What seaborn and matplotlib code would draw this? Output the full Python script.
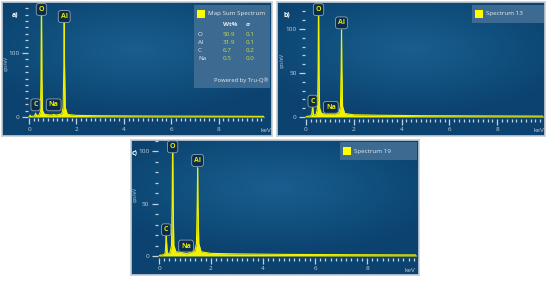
import numpy as np
import pandas as pd
import matplotlib
matplotlib.use('Agg')
import matplotlib.pyplot as plt
import seaborn as sns
from matplotlib.colors import LinearSegmentedColormap
from matplotlib.patches import Rectangle
from matplotlib.ticker import MultipleLocator

sns.set_theme(style="white")
plt.rcParams['font.family'] = ['Open Sans', 'DejaVu Sans']

# --- spectrum data (energy grid shared by the three spectra) ---
ENERGY = [0.00, 0.05, 0.08, 0.12, 0.20, 0.24, 0.26, 0.277, 0.295, 0.32,
          0.42, 0.48, 0.505, 0.525, 0.545, 0.57, 0.65, 0.95, 1.00, 1.04,
          1.08, 1.15, 1.38, 1.44, 1.47, 1.486, 1.50, 1.53, 1.62, 2.0,
          3.0, 5.0, 10.0]
COUNTS_A = [0, 3, 0.5, 1, 1.5, 2, 4, 6, 4, 2,
            3, 8, 60, 195, 60, 10, 4, 3, 3.5, 4,
            3.5, 3, 5, 15, 80, 150, 80, 15, 4, 2.5,
            2, 1.5, 1]
COUNTS_B = [0, 1, 0.5, 1, 1.5, 3, 8, 12, 8, 2,
            3, 10, 50, 140, 50, 10, 4, 3, 3.5, 3,
            3.5, 3, 5, 12, 55, 99, 55, 12, 4, 2.5,
            2, 1.5, 1]
COUNTS_C = [0, 1, 0.5, 1, 1.5, 3, 12, 19, 12, 2,
            3, 10, 50, 115, 50, 10, 4, 3, 2.5, 2,
            2.5, 3, 5, 12, 50, 84, 50, 12, 4, 2.5,
            2, 1.5, 1]

PEAK_ELEMENTS = ['C', 'O', 'Na', 'Al']
PEAK_KEV = [0.277, 0.525, 1.041, 1.486]

# quantification table of panel a)
WT_ELEMENTS = ['O', 'Al', 'C', 'Na']
WT_PCT = [50.9, 31.9, 6.7, 0.5]
WT_SIGMA = [0.1, 0.1, 0.2, 0.0]

W, H = 550, 281
YELLOW = '#f0f000'
TICK_COLOR = '#c4d2e0'
bg_cmap = LinearSegmentedColormap.from_list('eds', ['#0c426f', '#11517f', '#1a5e8f'])

PANELS = [
    dict(tag='a)', counts=COUNTS_A, rect=(2, 2, 270, 134), x0=29, ppk=23.7, y0=117, ppc=0.64,
         ytop=175, ymajor=100, kev_px=(266, 130), ylab_px=(6, 64), tag_px=(12, 16),
         label_y=[19, 168, 19, 157],
         legend='Map Sum Spectrum', leg_rect=(194, 5, 76, 83)),
    dict(tag='b)', counts=COUNTS_B, rect=(277, 2, 268, 134), x0=306, ppk=23.9, y0=117, ppc=0.88,
         ytop=127, ymajor=50, kev_px=(539, 130), ylab_px=(282, 61), tag_px=(284, 15),
         label_y=[18, 122, 11, 107],
         legend='Spectrum 13', leg_rect=(472, 5, 72, 18)),
    dict(tag='c)', counts=COUNTS_C, rect=(131, 140, 288, 135), x0=159, ppk=26.0, y0=256, ppc=1.05,
         ytop=110, ymajor=50, kev_px=(410, 270), ylab_px=(135, 195), tag_px=(132, 153),
         label_y=[25, 104, 9.5, 91],
         legend='Spectrum 19', leg_rect=(340, 142, 77, 18)),
]


def px_axes(fig, x, y, w, h, **kw):
    return fig.add_axes([x / W, 1 - (y + h) / H, w / W, h / H], **kw)


def fig_text(fig, x, y, s, **kw):
    return fig.text(x / W, 1 - y / H, s, **kw)


def draw_panel(fig, p):
    bx, by, bw, bh = p['rect']
    bg = px_axes(fig, bx, by, bw, bh)
    gx, gy = np.meshgrid(np.linspace(-1, 1, 200), np.linspace(-1, 1, 100))
    bg.imshow(1 - np.clip(np.sqrt((gx * 0.8) ** 2 + (gy + 0.3) ** 2), 0, 1),
              cmap=bg_cmap, aspect='auto', extent=[0, 1, 0, 1])
    bg.set_xticks([])
    bg.set_yticks([])
    for s in bg.spines.values():
        s.set_color('#c9cfd6')
        s.set_linewidth(1.2)

    xlim = (-0.05, 9.9)
    ylim = (-2, p['ytop'])
    left = p['x0'] + xlim[0] * p['ppk']
    right = p['x0'] + xlim[1] * p['ppk']
    bottom = p['y0'] - ylim[0] * p['ppc']
    top = p['y0'] - ylim[1] * p['ppc']
    ax = px_axes(fig, left, top, right - left, bottom - top)
    ax.patch.set_alpha(0)

    df = pd.DataFrame({'keV': ENERGY, 'cps': p['counts']})
    ax.fill_between(df['keV'], df['cps'], 0, color=YELLOW, lw=0)
    sns.lineplot(data=df, x='keV', y='cps', color=YELLOW, lw=0.8, ax=ax)
    ax.set_xlim(*xlim)
    ax.set_ylim(*ylim)
    ax.set_xlabel('')
    ax.set_ylabel('')
    for s in ax.spines.values():
        s.set_visible(False)

    ax.set_xticks([0, 2, 4, 6, 8])
    ax.xaxis.set_minor_locator(MultipleLocator(0.2))
    ax.yaxis.set_major_locator(MultipleLocator(p['ymajor']))
    ax.yaxis.set_minor_locator(MultipleLocator(10))
    if p['ymajor'] == 100:
        ax.set_yticks([0, 100])
    ax.tick_params(which='major', direction='out', length=4, width=0.9,
                   color=TICK_COLOR, labelcolor=TICK_COLOR, labelsize=4.6, pad=2,
                   left=True, bottom=True)
    ax.tick_params(which='minor', direction='out', length=2, width=0.9,
                   color=TICK_COLOR, left=True, bottom=True)

    for el, kev, ly in zip(PEAK_ELEMENTS, PEAK_KEV, p['label_y']):
        ax.text(kev, ly, el, ha='center', va='center', color='#e6e600', fontsize=5,
                fontweight='bold', clip_on=False, zorder=5,
                bbox=dict(boxstyle='round,pad=0.35', facecolor='#0b2d4d',
                          edgecolor='#8ea2b4', lw=0.6))

    fig_text(fig, *p['kev_px'], 'keV', color=TICK_COLOR, fontsize=4.6, ha='center', va='center')
    fig_text(fig, *p['ylab_px'], 'cps/eV', color=TICK_COLOR, fontsize=3.5, rotation=90,
             ha='center', va='center')
    fig_text(fig, *p['tag_px'], p['tag'], color='white', fontsize=5,
             fontweight='bold', ha='left', va='center')

    lx, ly, lw_, lh = p['leg_rect']
    lax = px_axes(fig, lx, ly, lw_, lh)
    lax.set_xlim(0, lw_)
    lax.set_ylim(lh, 0)
    lax.axis('off')
    lax.add_patch(Rectangle((0, 0), lw_, lh, facecolor='#3d6a90', edgecolor='none'))
    lax.add_patch(Rectangle((3, 5), 8, 7.5, facecolor='#ffff00', edgecolor='none'))
    lax.text(14, 9, p['legend'], color='#e4ecf4', fontsize=4.5, va='center', ha='left')
    if p['tag'] == 'a)':
        lax.text(29, 20, 'Wt%', color='#e4ecf4', fontsize=4.5, fontweight='bold', va='center')
        lax.text(52, 20, 'σ', color='#e4ecf4', fontsize=4.5, fontweight='bold', va='center')
        for i, (el, wt, sg) in enumerate(zip(WT_ELEMENTS, WT_PCT, WT_SIGMA)):
            yy = 29 + i * 8
            lax.text(4, yy, el, color='#e4ecf4', fontsize=4.5, va='center')
            lax.text(29, yy, f'{wt:.1f}', color='#cdd94a', fontsize=4.5, va='center')
            lax.text(52, yy, f'{sg:.1f}', color='#cdd94a', fontsize=4.5, va='center')
        lax.text(lw_ - 2, 75, 'Powered by Tru-Q®', color='#e4ecf4', fontsize=4.2,
                 va='center', ha='right')


fig = plt.figure(figsize=(W / 100, H / 100), dpi=100)
fig.patch.set_facecolor('white')
for panel in PANELS:
    draw_panel(fig, panel)
fig.savefig('out.png', dpi=100)
